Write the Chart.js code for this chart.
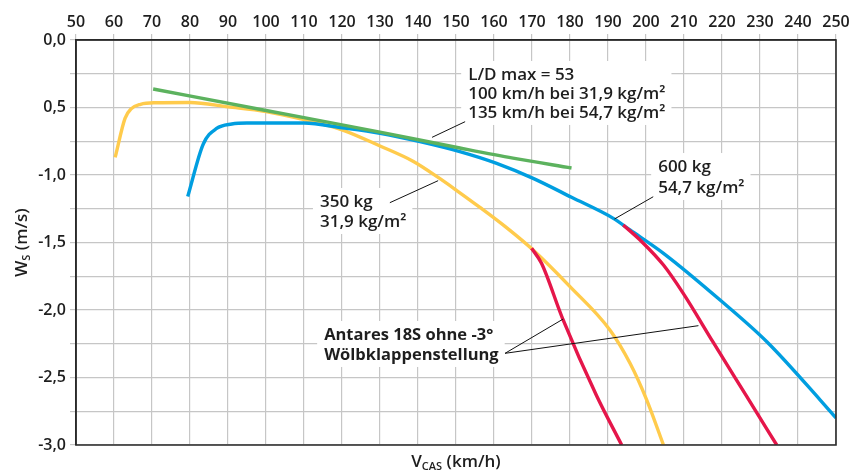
<!DOCTYPE html>
<html><head><meta charset="utf-8">
<script src="https://cdn.jsdelivr.net/npm/chart.js@4/dist/chart.umd.min.js"></script>
<style>html,body{margin:0;padding:0;background:#fff}canvas{display:block}</style>
</head><body>
<canvas id="c" width="859" height="473"></canvas>
<script>
// ---- data ----
const yTickValues = [0, -0.5, -1, -1.5, -2, -2.5, -3];
const yTickLabels = ["0,0", "0,5", "-1,0", "-1,5", "-2,0", "-2,5", "-3,0"];

// 350 kg, 31,9 kg/m2
const speed350 = [60.3, 62.9, 64.5, 67, 71, 80, 90, 100, 110, 120, 130, 138.8, 145.4, 150.2, 156.3, 163.3, 170.3, 180, 190.5, 195.8, 200.2, 204.6];
const sink350  = [-0.87, -0.58, -0.51, -0.476, -0.465, -0.463, -0.495, -0.53, -0.59, -0.665, -0.785, -0.9, -1.02, -1.115, -1.24, -1.39, -1.556, -1.827, -2.148, -2.395, -2.667, -3.0];

// 600 kg, 54,7 kg/m2
const speed600 = [79.4, 83.5, 87, 91, 95, 110, 120, 130, 140.5, 151, 160.7, 170.3, 180.4, 191.4, 195.8, 204.6, 219.5, 231.8, 245.8, 250];
const sink600  = [-1.16, -0.77, -0.655, -0.622, -0.615, -0.615, -0.65, -0.691, -0.753, -0.827, -0.914, -1.025, -1.165, -1.321, -1.407, -1.58, -1.926, -2.235, -2.665, -2.8];

// L/D max tangent
const speedLD = [70.3, 100, 130, 151, 165, 180.4];
const sinkLD  = [-0.363, -0.522, -0.683, -0.8, -0.875, -0.948];

// without -3 deg flap setting
const speedRed350 = [169.9, 172.5, 178, 187, 193.6];
const sinkRed350  = [-1.543, -1.654, -2.06, -2.635, -3.0];
const speedRed600 = [194, 198.9, 204.6, 209.8, 217.7, 226.5, 234.4];
const sinkRed600  = [-1.37, -1.494, -1.667, -1.877, -2.24, -2.64, -3.0];

// annotation texts
const noteLD = ["L/D max = 53", "100 km/h bei 31,9 kg/m²", "135 km/h bei 54,7 kg/m²"];
const note350 = ["350 kg", "31,9 kg/m²"];
const note600 = ["600 kg", "54,7 kg/m²"];
const noteRed = ["Antares 18S ohne -3°", "Wölbklappenstellung"];

// ---- presentation ----
const FONT = "'Open Sans', 'Liberation Sans', sans-serif";
const YELLOW = "#ffcb4c", BLUE = "#009ee0", GREEN = "#5cb25e", RED = "#e5164a";
const TXT = "#1e1e1e";

const labels = [
  { lines: noteLD, at: [153.2, -0.296], weight: "600", size: 17, lh: 19 },
  { lines: note350, at: [114.2, -1.237], weight: "600", size: 17, lh: 20 },
  { lines: note600, at: [203.2, -0.978], weight: "600", size: 17, lh: 21 },
  { lines: noteRed, at: [115.3, -2.222], weight: "700", size: 16.5, lh: 20 }
];
const leaders = [
  [[143.7, -0.721], [152.4, -0.605]],
  [[132.6, -1.205], [145.3, -1.042]],
  [[191.7, -1.326], [201.9, -1.161]],
  [[162.9, -2.321], [178.2, -2.067]],
  [[162.9, -2.321], [213.8, -2.116]]
];

const pts = (xs, ys) => xs.map((x, i) => ({ x: x, y: ys[i] }));
const ds = (xs, ys, c) => ({ data: pts(xs, ys), borderColor: c, borderWidth: 3.4, pointRadius: 0,
  tension: 0.4, cubicInterpolationMode: "monotone", fill: false, borderCapStyle: "butt", borderJoinStyle: "round" });

function boxOf(ctx, chart, l) {
  const sx = chart.scales.x, sy = chart.scales.y;
  ctx.font = l.weight + " " + l.size + "px " + FONT;
  const x = sx.getPixelForValue(l.at[0]), y = sy.getPixelForValue(l.at[1]);
  let w = 0; l.lines.forEach(t => { w = Math.max(w, ctx.measureText(t).width); });
  return { x, y, w };
}

const notesPlugin = {
  id: "notes",
  beforeDatasetsDraw(chart) {
    const ctx = chart.ctx;
    ctx.save();
    labels.forEach(l => {
      const b = boxOf(ctx, chart, l);
      ctx.fillStyle = "#fff";
      ctx.fillRect(b.x - 7, b.y - 19, b.w + 13, (l.lines.length - 1) * l.lh + 26);
    });
    ctx.restore();
  },
  afterDatasetsDraw(chart) {
    const ctx = chart.ctx, sx = chart.scales.x, sy = chart.scales.y, a = chart.chartArea;
    ctx.save();
    ctx.strokeStyle = "#111"; ctx.lineWidth = 1;
    leaders.forEach(s => {
      ctx.beginPath();
      ctx.moveTo(sx.getPixelForValue(s[0][0]), sy.getPixelForValue(s[0][1]));
      ctx.lineTo(sx.getPixelForValue(s[1][0]), sy.getPixelForValue(s[1][1]));
      ctx.stroke();
    });
    ctx.fillStyle = TXT; ctx.textAlign = "left"; ctx.textBaseline = "alphabetic";
    labels.forEach(l => {
      const b = boxOf(ctx, chart, l);
      l.lines.forEach((t, i) => ctx.fillText(t, b.x, b.y + i * l.lh));
    });
    ctx.strokeStyle = "#2a2a2a"; ctx.lineWidth = 1.6;
    ctx.beginPath();
    ctx.moveTo(a.left, a.top); ctx.lineTo(a.right, a.top); ctx.lineTo(a.right, a.bottom); ctx.lineTo(a.left, a.bottom); ctx.closePath();
    ctx.stroke();
    ctx.fillStyle = TXT;
    const cx = (a.left + a.right) / 2;
    const parts = [["V", 17, 0], ["CAS", 11, 3], [" (km/h)", 17, 0]];
    let tw = 0;
    parts.forEach(p => { ctx.font = "600 " + p[1] + "px " + FONT; tw += ctx.measureText(p[0]).width; });
    let px = cx - tw / 2;
    parts.forEach(p => { ctx.font = "600 " + p[1] + "px " + FONT; ctx.fillText(p[0], px, 467 + p[2]); px += ctx.measureText(p[0]).width; });
    ctx.translate(27, (a.top + a.bottom) / 2);
    ctx.rotate(-Math.PI / 2);
    const yp = [["W", 17, 0], ["S", 11, 3], [" (m/s)", 17, 0]];
    tw = 0;
    yp.forEach(p => { ctx.font = "600 " + p[1] + "px " + FONT; tw += ctx.measureText(p[0]).width; });
    px = -tw / 2;
    yp.forEach(p => { ctx.font = "600 " + p[1] + "px " + FONT; ctx.fillText(p[0], px, p[2]); px += ctx.measureText(p[0]).width; });
    ctx.restore();
  }
};

new Chart(document.getElementById("c"), {
  type: "line",
  data: { datasets: [
    ds(speedRed350, sinkRed350, RED),
    ds(speedRed600, sinkRed600, RED),
    ds(speedLD, sinkLD, GREEN),
    ds(speed600, sink600, BLUE),
    ds(speed350, sink350, YELLOW)
  ] },
  options: {
    responsive: false, animation: false, devicePixelRatio: 1,
    layout: { padding: { left: 0, right: 23, top: 0, bottom: 28 } },
    plugins: { legend: { display: false }, tooltip: { enabled: false } },
    scales: {
      x: {
        type: "linear", position: "top", min: 50, max: 250,
        ticks: { stepSize: 10, autoSkip: false, maxRotation: 0, color: TXT, padding: 2,
          font: { family: FONT, size: 16, weight: "600" } },
        grid: { color: "#c6c6c6", lineWidth: 1.2, tickLength: 6 },
        border: { display: true, color: "#2a2a2a", width: 1.6 },
        afterFit(s) { s.height = 40; }
      },
      y: {
        type: "linear", min: -3, max: 0,
        ticks: { stepSize: 0.25, autoSkip: false, color: TXT, padding: 4,
          font: { family: FONT, size: 16, weight: "600" },
          callback(v) { const i = yTickValues.findIndex(t => Math.abs(t - v) < 1e-6); return i < 0 ? "" : yTickLabels[i]; } },
        grid: { color: "#c6c6c6", lineWidth: 1.2, tickLength: 6 },
        border: { display: true, color: "#2a2a2a", width: 1.6 },
        afterFit(s) { s.width = 76; }
      }
    }
  },
  plugins: [notesPlugin]
});
</script>
</body></html>
